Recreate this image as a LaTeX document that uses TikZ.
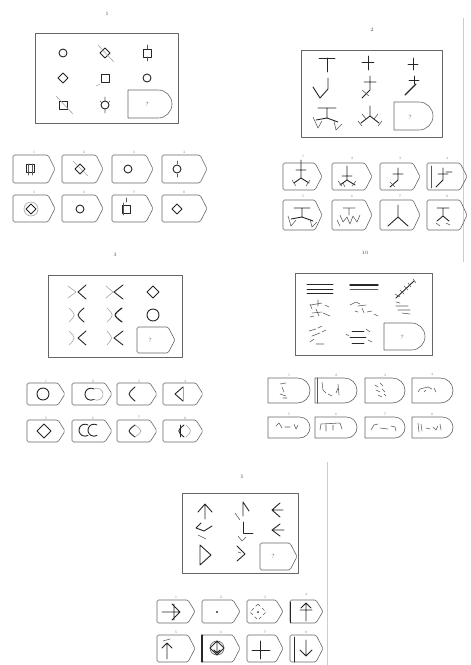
\documentclass[tikz,border=0pt]{standalone}
\usepackage{tikz}
\tikzset{
 boxline/.style={draw=black!60, line width=0.6pt, line join=round},
 glyph/.style={draw=black!85, line width=0.9pt, line cap=round, line join=round},
 faint/.style={draw=black!35, line width=0.6pt, line cap=round},
 thinl/.style={draw=black!65, line width=0.55pt, line cap=round, line join=round},
 lbl/.style={font=\fontsize{5}{6}\selectfont, text=black!70, inner sep=0pt},
 tiny/.style={font=\fontsize{3.5}{4}\selectfont, text=black!45, inner sep=0pt},
 qm/.style={font=\fontsize{6}{7}\selectfont, text=black!70, inner sep=0pt},
 edge/.style={draw=black!20, line width=0.6pt},
}
\newcommand\tagP[4]{\draw[boxline,rounded corners=1.5pt] (#1,#2) -- ({#3-7},#2) -- (#3,{(#2+#4)/2}) -- ({#3-7},#4) -- (#1,#4) -- cycle;}
\newcommand\tagD[4]{\pgfmathsetmacro\tdR{(#4-#2)/2}\pgfmathsetmacro\tdM{(#2+#4)/2}\pgfmathsetmacro\tdA{#3-\tdR}\pgfmathsetmacro\tdK{0.552*\tdR}%
\draw[boxline] (#1,#2) -- (\tdA,#2) .. controls ({\tdA+\tdK},#2) and (#3,{\tdM-\tdK}) .. (#3,\tdM) .. controls (#3,{\tdM+\tdK}) and ({\tdA+\tdK},#4) .. (\tdA,#4) -- (#1,#4) -- cycle;}
\newcommand\gcirc[3]{\draw[glyph] (#1,#2) circle[radius=#3pt];}
\newcommand\gdiam[3]{\draw[glyph] ({#1-#3},#2) -- (#1,{#2-#3}) -- ({#1+#3},#2) -- (#1,{#2+#3}) -- cycle;}
\newcommand\gsq[3]{\draw[glyph] ({#1-#3},{#2-#3}) rectangle ({#1+#3},{#2+#3});}
\begin{document}
\begin{tikzpicture}[x=1pt,y=-1pt]
\useasboundingbox[fill=white] (0,0) rectangle (471,665);
% page edges
\draw[edge] (463,18) -- (463,262);
\draw[edge] (327,462) -- (327,665);

%================ Puzzle 1 ================
\node[lbl] (t1) at (107,14) {1};
\draw[boxline] (35,33) rectangle (178,123);
\tagD{128}{90}{172}{118}
\node[qm] (q1) at (147,104) {?};
\gcirc{63}{53}{4}
\gdiam{105}{53}{5} \draw[faint] (98,45) -- (114,62);
\gsq{147}{53}{4} \draw[thinl] (147,45)--(147,49) (147,57)--(147,61);
\gdiam{63}{78}{5}
\gsq{105}{78}{4} \draw[faint] (96,86)--(100,84);
\gcirc{147}{78}{4}
\gsq{63}{105}{4} \draw[faint] (56,96)--(73,114);
\gcirc{105}{105}{4} \draw[thinl] (105,97)--(105,101) (105,109)--(105,113) (100,101)--(102,103) (110,101)--(108,103);
% options
\tagP{13}{155}{55}{183} \tagP{62}{155}{103}{183} \tagP{112}{155}{153}{183} \tagP{162}{155}{207}{183}
\tagP{13}{195}{55}{222} \tagP{62}{195}{103}{222} \tagP{112}{195}{153}{222} \tagP{162}{195}{207}{222}
\node[tiny] (o11) at (34,152) {1}; \node[tiny] (o12) at (84,152) {2}; \node[tiny] (o13) at (134,152) {3}; \node[tiny] (o14) at (184,152) {4};
\node[tiny] (o15) at (34,192) {5}; \node[tiny] (o16) at (84,192) {6}; \node[tiny] (o17) at (134,192) {7}; \node[tiny] (o18) at (184,192) {8};
\gsq{30}{168}{4} \draw[thinl] (28,164)--(28,175) (32,164)--(32,175);
\gdiam{80}{169}{5} \draw[faint] (73,161)--(88,176);
\gcirc{128}{169}{4}
\gcirc{177}{169}{4} \draw[thinl] (177,161)--(177,164) (177,174)--(177,177);
\gdiam{31}{209}{5} \draw[faint] (31,209) circle[radius=7pt];
\gcirc{80}{209}{4}
\gsq{126}{209}{4} \draw[thinl] (123,203)--(123,215) (126,198)--(126,202);
\gdiam{177}{209}{5}

%================ Puzzle 2 ================
\node[lbl] (t2) at (372,30) {2};
\draw[boxline] (301,50) rectangle (442,137);
\tagD{394}{102}{433}{130}
\node[qm] (q2) at (410,117) {?};
\draw[glyph] (319,58)--(335,58) (327,58)--(327,72);
\draw[glyph] (362,62)--(374,62) (368,56)--(368,70);
\draw[glyph] (408,64)--(418,64) (413,58)--(413,70);
\draw[glyph] (328,78)--(328,89) (313,87)--(320,98)--(328,89);
\draw[glyph] (370,76)--(370,90) (364,82)--(376,82) (370,90)--(362,98);
\draw[thinl] (362,90)--(369,96);
\draw[glyph] (414,76)--(414,84) (409,80)--(419,80);
\draw[glyph,line width=1.3pt] (416,84)--(405,95);
\draw[glyph] (318,108)--(336,108) (327,108)--(327,118) (327,118)--(316,120) (327,118)--(338,122);
\draw[thinl] (313,117)--(318,128)--(322,121) (334,121)--(336,130)--(342,124);
\draw[glyph] (370,106)--(370,116) (370,116)--(361,123) (370,116)--(379,123);
\draw[thinl] (362,114)--(366,119) (378,114)--(374,119) (358,121)--(362,126) (382,121)--(378,126);
% options
\tagP{283}{163}{322}{190} \tagP{332}{163}{372}{190} \tagP{380}{163}{420}{190} \tagP{427}{163}{467}{190}
\tagP{283}{200}{322}{230} \tagP{332}{200}{372}{230} \tagP{380}{200}{420}{230} \tagP{427}{200}{467}{230}
\node[tiny] (o21) at (303,156) {1}; \node[tiny] (o22) at (352,158) {2}; \node[tiny] (o23) at (400,158) {3}; \node[tiny] (o24) at (447,158) {4};
\node[tiny] (o25) at (303,196) {5}; \node[tiny] (o26) at (352,196) {6}; \node[tiny] (o27) at (400,196) {7}; \node[tiny] (o28) at (447,196) {8};
\draw[glyph] (301,160)--(301,178) (296,170)--(306,170) (301,178)--(294,183) (301,178)--(309,183);
\draw[thinl] (292,180)--(296,186) (310,180)--(306,186);
\draw[glyph] (347,166)--(347,180) (342,176)--(352,176) (347,180)--(340,185) (347,180)--(355,185);
\draw[thinl] (338,181)--(342,186) (356,181)--(352,186) (343,183)--(345,187);
\draw[glyph] (398,168)--(398,180) (393,174)--(403,174) (398,180)--(390,187);
\draw[thinl] (390,182)--(395,187);
\draw[thinl] (431,166)--(431,188);
\draw[glyph] (443,168)--(443,180) (438,174)--(448,174) (443,180)--(436,187) (446,172)--(452,172);
\draw[glyph] (294,208)--(310,208) (302,208)--(302,217) (302,217)--(291,219) (302,217)--(313,221);
\draw[thinl] (288,216)--(291,226)--(296,220) (310,219)--(312,227)--(317,222);
\draw[thinl] (343,208)--(355,208) (349,208)--(349,215) (340,215)--(343,222)--(347,217)--(350,224)--(353,216)--(357,222)--(360,215) (337,220)--(340,226);
\draw[glyph] (398,205)--(398,217) (398,217)--(388,226) (398,217)--(408,226);
\draw[glyph] (437,208)--(449,208) (443,208)--(443,216) (443,216)--(437,221) (443,216)--(449,221);
\draw[thinl] (436,223)--(440,226) (446,223)--(450,225);

%================ Puzzle 3 ================
\node[lbl] (t3) at (115,255) {3};
\draw[boxline] (48,275) rectangle (182,357);
\tagP{137}{327}{175}{353}
\node[qm] (q3) at (150,340) {?};
\draw[faint] (68,286)--(76,292)--(68,298);
\draw[glyph] (86,285)--(78,292)--(86,299);
\draw[faint] (106,286)--(113,292)--(106,298);
\draw[glyph] (123,285)--(114,292)--(123,299);
\gdiam{153}{292}{6}
\draw[faint] (69,308) .. controls (76,315) .. (69,322);
\draw[glyph] (84,308) .. controls (76,315) .. (84,322);
\draw[faint] (107,308) .. controls (114,315) .. (107,322);
\draw[glyph,line width=1.2pt] (122,308) .. controls (113,315) .. (122,322);
\gcirc{153}{315}{6}
\draw[faint] (69,331) .. controls (76,338) .. (69,345);
\draw[glyph] (86,331)--(78,338)--(86,345);
\draw[faint] (107,331) .. controls (113,338) .. (107,345);
\draw[glyph] (123,331)--(114,338)--(123,345);
% options
\tagP{27}{383}{65}{405} \tagP{72}{383}{112}{405} \tagP{117}{383}{157}{405} \tagP{163}{383}{203}{405}
\tagP{27}{420}{65}{442} \tagP{72}{420}{112}{442} \tagP{117}{420}{157}{442} \tagP{163}{420}{203}{442}
\node[tiny] (o31) at (46,381) {1}; \node[tiny] (o32) at (93,381) {2}; \node[tiny] (o33) at (139,381) {3}; \node[tiny] (o34) at (185,381) {4};
\node[tiny] (o35) at (46,418) {5}; \node[tiny] (o36) at (93,418) {6}; \node[tiny] (o37) at (139,417) {7}; \node[tiny] (o38) at (185,418) {8};
\gcirc{43}{394}{6}
\draw[glyph] (94,389) arc[start angle=60,end angle=300,radius=6pt];
\draw[faint] (94,389) arc[start angle=120,end angle=-120,radius=6pt];
\draw[glyph] (135,387) .. controls (127,394) .. (135,401);
\draw[glyph] (183,387)--(175,394)--(183,401);
\draw[faint] (183,387)--(183,401);
\gdiam{44}{431}{7}
\draw[glyph] (88,425) arc[start angle=60,end angle=300,radius=6pt];
\draw[glyph] (97,425) arc[start angle=60,end angle=300,radius=6pt];
\draw[glyph] (135,425) .. controls (127,431) .. (135,437);
\draw[faint] (135,425) .. controls (143,431) .. (135,437);
\draw[glyph] (184,425) .. controls (177,431) .. (184,437);
\draw[glyph] (180,425)--(180,437);
\draw[faint] (186,425) .. controls (192,431) .. (186,437);

%================ Puzzle 4 ================
\node[lbl] (t4) at (365,253) {10};
\draw[boxline] (295,273) rectangle (432,355);
\tagD{384}{323}{425}{350}
\node[qm] (q4) at (402,337) {?};
\draw[glyph] (307,284)--(333,284) (307,289)--(333,289) (307,293)--(333,293);
\draw[glyph,line width=1.4pt] (350,285)--(378,285);
\draw[thinl] (350,289)--(378,289);
\draw[glyph] (396,298)--(414,281);
\draw[thinl] (395,294)--(400,297) (400,290)--(404,294) (404,286)--(408,290) (408,283)--(411,287) (413,279)--(416,283);
\draw[thinl] (310,304)--(312,309) (311,305)--(322,303) (318,300)--(318,306) (312,313)--(322,312) (316,309)--(319,316) (323,313)--(330,316) (325,305)--(329,307) (310,317)--(314,316);
\draw[thinl] (350,305)--(356,302)--(360,304) (358,306)--(366,305) (362,308)--(364,313) (367,312)--(372,311) (374,314)--(378,316) (355,311)--(358,312);
\draw[thinl] (396,306)--(408,306) (398,310)--(410,310) (402,313)--(410,314) (396,302)--(400,303);
\draw[thinl] (309,331)--(316,329) (318,328)--(322,326) (312,336)--(320,333) (322,332)--(326,330) (310,342)--(314,339) (316,344)--(324,344);
\draw[glyph] (352,331)--(364,331) (350,337)--(366,337) (352,343)--(364,343);
\draw[thinl] (366,329)--(370,332) (368,340)--(372,342) (346,334)--(349,336);
% options
\tagD{268}{378}{310}{403} \tagD{315}{378}{357}{403} \tagD{365}{378}{405}{403} \tagD{412}{378}{453}{403}
\tagD{268}{417}{310}{438} \tagD{315}{417}{357}{438} \tagD{365}{417}{405}{438} \tagD{412}{417}{453}{438}
\draw[thinl,line width=1pt] (317,378)--(317,403);
\node[tiny] (o41) at (289,375) {1}; \node[tiny] (o42) at (336,375) {2}; \node[tiny] (o43) at (385,375) {3}; \node[tiny] (o44) at (432,374) {4};
\node[tiny] (o45) at (289,414) {5}; \node[tiny] (o46) at (336,414) {6}; \node[tiny] (o47) at (385,414) {7}; \node[tiny] (o48) at (432,414) {8};
\draw[thinl] (280,384)--(286,383) (282,387)--(284,392) (280,394)--(286,396) (283,398)--(287,398);
\draw[thinl] (322,382)--(323,390)--(326,393) (328,394)--(332,396) (336,393)--(338,388) (338,384)--(339,395);
\draw[thinl] (375,385)--(378,387) (380,383)--(383,386) (376,390)--(380,392) (382,389)--(385,392) (378,395)--(382,397) (384,394)--(386,396);
\draw[thinl] (418,392)--(420,389)--(428,387)--(432,389) (424,392)--(426,390) (434,388)--(436,392);
\draw[thinl] (276,426)--(279,423)--(282,428) (285,427)--(290,427) (294,424)--(296,429)--(298,425);
\draw[thinl] (320,430)--(321,424)--(340,423)--(342,429) (326,425)--(326,431) (333,425)--(333,430);
\draw[thinl] (371,430)--(374,425)--(378,424) (380,428)--(388,429) (391,426)--(395,427)--(396,431);
\draw[thinl] (418,423)--(419,432) (421,424)--(422,431) (426,428)--(430,429) (433,427)--(436,430)--(438,426) (440,424)--(441,430);

%================ Puzzle 5 ================
\node[lbl] (t5) at (242,477) {5};
\draw[boxline] (182,493) rectangle (298,573);
\tagP{260}{543}{297}{570}
\node[qm] (q5) at (273,556) {?};
\draw[glyph] (198,512)--(205,504)--(212,512) (205,504)--(205,519);
\draw[glyph] (243,502)--(243,516) (243,502)--(249,511);
\draw[thinl] (235,513)--(240,520);
\draw[glyph] (280,503)--(272,510)--(280,517) (272,510)--(283,510);
\draw[glyph] (201,523)--(196,528)--(204,531) (204,531)--(212,526);
\draw[thinl] (198,535)--(206,539);
\draw[glyph] (243,522)--(243,533)--(253,533);
\draw[thinl] (238,536)--(242,541)--(246,537);
\draw[glyph] (280,524)--(272,530)--(280,536) (274,530)--(284,530);
\draw[glyph] (200,545)--(211,555)--(200,565)--cycle;
\draw[glyph] (237,546)--(245,554)--(237,561);
\draw[thinl] (238,552)--(241,553);
% options
\tagP{157}{600}{195}{623} \tagP{202}{600}{240}{623} \tagP{247}{600}{283}{623} \tagP{290}{600}{323}{623}
\tagP{157}{635}{195}{662} \tagP{202}{635}{240}{662} \tagP{247}{635}{283}{662} \tagP{290}{635}{323}{662}
\node[tiny] (o51) at (176,597) {1}; \node[tiny] (o52) at (221,597) {2}; \node[tiny] (o53) at (265,597) {3}; \node[tiny] (o54) at (306,594) {4};
\node[tiny] (o55) at (176,632) {5}; \node[tiny] (o56) at (221,632) {6}; \node[tiny] (o57) at (265,632) {7}; \node[tiny] (o58) at (306,632) {8};
\draw[glyph] (162,612)--(180,612) (172,604)--(180,612)--(172,620) (174,604)--(174,620);
\fill[black!80] (217,612) circle[radius=1.1pt];
\draw[thinl,dashed] (258,604)--(266,612)--(258,620)--(250,612)--cycle;
\fill[black!80] (258,612) circle[radius=1pt];
\draw[glyph] (290,602)--(290,623);
\draw[glyph] (300,610)--(312,610) (306,604)--(306,621) (301,608)--(306,603)--(311,608);
\draw[glyph] (167,643)--(167,659) (162,648)--(167,643)--(172,648);
\draw[thinl] (163,641)--(170,639);
\draw[glyph,line width=1.1pt] (202,635)--(202,662);
\draw[thinl] (217,648) circle[radius=7pt];
\draw[glyph] (210,648)--(217,641)--(224,648)--(217,655)--cycle (217,642)--(217,653) (214,650)--(217,653)--(220,650);
\draw[glyph] (260,641)--(260,659) (252,650)--(270,650);
\draw[glyph] (294,637)--(294,662);
\draw[glyph] (306,640)--(306,656) (300,650)--(306,656)--(312,650);
\end{tikzpicture}
\end{document}
